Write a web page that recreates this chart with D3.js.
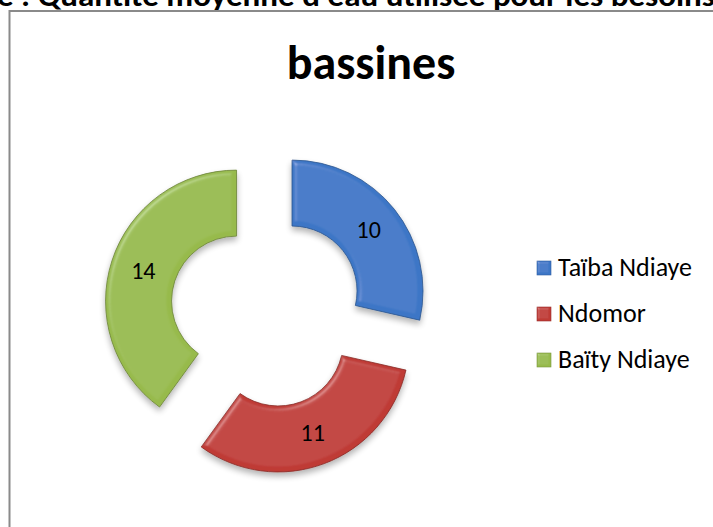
<!DOCTYPE html>
<html>
<head>
<meta charset="utf-8">
<script src="https://cdn.jsdelivr.net/npm/d3@7"></script>
<style>
  html, body { margin: 0; padding: 0; background: #fff; overflow: hidden; }
  svg { display: block; font-family: Calibri, Carlito, Lato, sans-serif; }
</style>
</head>
<body>
<svg id="chart" width="713" height="527"></svg>
<script>
// chart data
const villages = ["Taïba Ndiaye", "Ndomor", "Baïty Ndiaye"];
const bassines = [10, 11, 14];
const sliceColors = ["#3c76c6", "#bf3a35", "#97ba4c"];
const captionText = "e : Quantité moyenne d'eau utilisée pour les besoins";
const chartTitle = "bassines";

const svg = d3.select("#chart");

// bevel + soft shadow, roughly like the office 3D look
const defs = svg.append("defs");
function bevel(id, blur, scale, shadow) {
    const f = defs.append("filter").attr("id", id)
        .attr("x", "-20%").attr("y", "-20%").attr("width", "140%").attr("height", "150%");
    f.append("feGaussianBlur").attr("in", "SourceAlpha").attr("stdDeviation", blur).attr("result", "blur");
    f.append("feSpecularLighting").attr("in", "blur").attr("surfaceScale", scale)
        .attr("specularConstant", 0.6).attr("specularExponent", 20)
        .attr("lighting-color", "#fff").attr("result", "spec")
      .append("feDistantLight").attr("azimuth", 225).attr("elevation", 40);
    f.append("feComposite").attr("in", "spec").attr("in2", "SourceAlpha").attr("operator", "in").attr("result", "specIn");
    f.append("feComposite").attr("in", "SourceGraphic").attr("in2", "specIn")
        .attr("operator", "arithmetic").attr("k1", 0).attr("k2", 1).attr("k3", 0.3).attr("k4", 0).attr("result", "lit");
    if (!shadow) return;
    f.append("feGaussianBlur").attr("in", "SourceAlpha").attr("stdDeviation", 3).attr("result", "sb");
    f.append("feOffset").attr("in", "sb").attr("dx", 0).attr("dy", 4).attr("result", "so");
    f.append("feComponentTransfer").attr("in", "so").attr("result", "sh")
      .append("feFuncA").attr("type", "linear").attr("slope", 0.3);
    const merge = f.append("feMerge");
    merge.append("feMergeNode").attr("in", "sh");
    merge.append("feMergeNode").attr("in", "lit");
}
bevel("bevel", 2.5, 4, true);
bevel("bevelSmall", 1, 2, false);

// caption of the document, cut off at the top
svg.append("text")
    .attr("x", -3).attr("y", 6)
    .attr("font-size", 30).attr("font-weight", "bold")
    .attr("textLength", 718).attr("lengthAdjust", "spacingAndGlyphs")
    .attr("fill", "#000")
    .text(captionText);

// chart area frame (runs off the right and bottom)
svg.append("rect")
    .attr("x", 9.5).attr("y", 11)
    .attr("width", 740).attr("height", 540)
    .attr("fill", "#fff").attr("stroke", "#8a8a8a").attr("stroke-width", 2);

svg.append("text")
    .attr("x", 371).attr("y", 79)
    .attr("text-anchor", "middle")
    .attr("font-size", 48).attr("font-weight", "bold")
    .text(chartTitle);

// donut
const cx = 267, cy = 311;
const rOuter = 131, rInner = 65, explode = 32;

const color = d3.scaleOrdinal().domain(villages).range(sliceColors);
const pie = d3.pie().sort(null).startAngle(0).endAngle(2 * Math.PI);
const arcs = pie(bassines).map((d, i) => Object.assign(d, { name: villages[i] }));
const arc = d3.arc().innerRadius(rInner).outerRadius(rOuter);

const g = svg.append("g").attr("transform", `translate(${cx},${cy})`);

const slice = g.selectAll(".slice").data(arcs).join("g")
    .attr("class", "slice")
    .attr("transform", d => {
        const a = (d.startAngle + d.endAngle) / 2;
        return `translate(${Math.sin(a) * explode},${-Math.cos(a) * explode})`;
    });

slice.append("path")
    .attr("d", arc)
    .attr("fill", d => color(d.name))
    .attr("stroke", d => d3.color(color(d.name)).darker(1))
    .attr("stroke-width", 0.8)
    .attr("filter", "url(#bevel)");

slice.append("text")
    .attr("transform", d => `translate(${arc.centroid(d)})`)
    .attr("text-anchor", "middle")
    .attr("dy", "0.35em")
    .attr("font-size", 24)
    .attr("fill", "#000")
    .text(d => d.data);

// legend
const legend = svg.append("g").attr("transform", "translate(537,0)");
const row = legend.selectAll(".row").data(villages).join("g")
    .attr("class", "row")
    .attr("transform", (d, i) => `translate(0,${276 + i * 46})`);

row.append("rect")
    .attr("x", 0).attr("y", -15)
    .attr("width", 14).attr("height", 14)
    .attr("fill", d => color(d))
    .attr("stroke", d => d3.color(color(d)).darker(0.6))
    .attr("stroke-width", 0.6)
    .attr("filter", "url(#bevelSmall)");

row.append("text")
    .attr("x", 21).attr("y", 0)
    .attr("font-size", 26)
    .attr("fill", "#000")
    .text(d => d);
</script>
</body>
</html>
